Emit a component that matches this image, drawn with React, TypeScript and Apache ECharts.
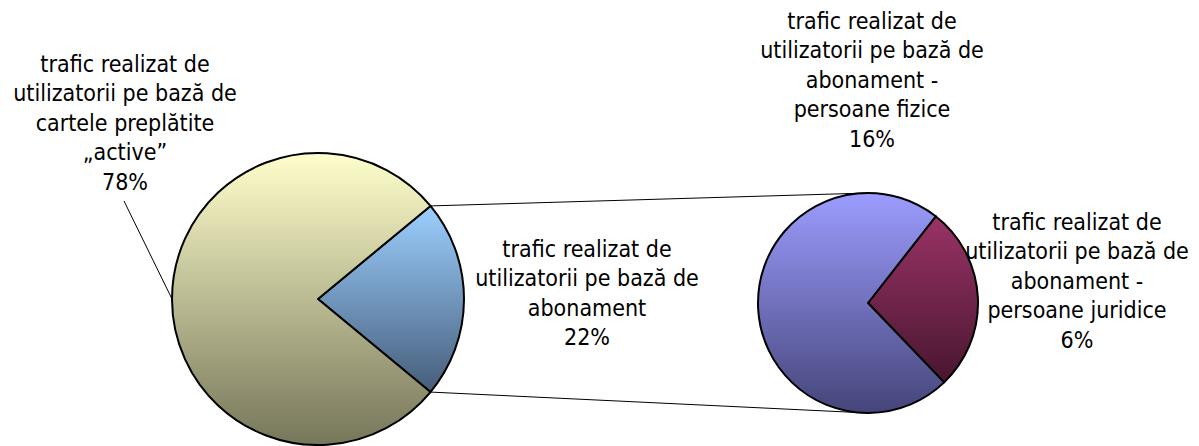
import React, { useEffect, useRef } from "react";
import * as echarts from "echarts";

const mainNames = [
  "trafic realizat de\nutilizatorii pe bază de\nabonament",
  "trafic realizat de\nutilizatorii pe bază de\ncartele preplătite\n„active”",
];
const mainValues = [22, 78];
const subNames = [
  "trafic realizat de\nutilizatorii pe bază de\nabonament -\npersoane juridice",
  "trafic realizat de\nutilizatorii pe bază de\nabonament -\npersoane fizice",
];
const subValues = [6, 16];

const mainColors = [
  ["#9ccfff", "#465d7a"],
  ["#ffffcc", "#76765a"],
];
const subColors = [
  ["#993366", "#48162e"],
  ["#9c9cff", "#45457a"],
];

// layout
const W = 1199;
const H = 446;
const MAIN_C = [318, 299];
const MAIN_R = 146;
const SUB_C = [868, 303];
const SUB_R = 110;
const mainLabelPos = [
  [587, 234],
  [125, 49],
];
const subLabelPos = [
  [1077, 207],
  [872, 6],
];
const FONT = "'DejaVu Sans Condensed', 'DejaVu Sans', sans-serif";

const grad = (c: string[]) =>
  new echarts.graphic.LinearGradient(0, 0, 0, 1, [
    { offset: 0, color: c[0] },
    { offset: 1, color: c[1] },
  ]);

export default function App() {
  const ref = useRef<HTMLDivElement>(null);
  useEffect(() => {
    document.body.style.margin = "0";
    if (!ref.current) return;
    const chart = echarts.init(ref.current, null, { renderer: "svg" });
    const mainTotal = mainValues.reduce((a, b) => a + b, 0);
    const subTotal = subValues.reduce((a, b) => a + b, 0);
    const half = ((mainValues[0] / mainTotal) * 360) / 2;
    const mainStart = half;
    const subStart = 52;
    const rad = (half * Math.PI) / 180;
    const p1 = [MAIN_C[0] + MAIN_R * Math.cos(rad), MAIN_C[1] - MAIN_R * Math.sin(rad)];
    const p2 = [MAIN_C[0] + MAIN_R * Math.cos(rad), MAIN_C[1] + MAIN_R * Math.sin(rad)];
    const labelStyle = {
      show: true,
      color: "#000",
      fontFamily: FONT,
      fontSize: 23,
      lineHeight: 29.5,
      align: "center",
      overflow: "none",
    };
    chart.setOption({
      animation: false,
      backgroundColor: "#fff",
      series: [
        {
          type: "pie",
          center: MAIN_C,
          radius: MAIN_R,
          startAngle: mainStart,
          clockwise: true,
          silent: true,
          label: {
            ...labelStyle,
            position: "inside",
            formatter: (p: any) => `${p.name}\n${Math.round((p.value / mainTotal) * 100)}%`,
          },
          labelLine: { show: false },
          labelLayout: (p: any) => ({
            x: mainLabelPos[p.dataIndex][0],
            y: mainLabelPos[p.dataIndex][1],
            align: "center",
            verticalAlign: "top",
          }),
          itemStyle: { borderColor: "#000", borderWidth: 2 },
          data: mainValues.map((v, i) => ({
            name: mainNames[i],
            value: v,
            itemStyle: { color: grad(mainColors[i]) },
          })),
          z: 2,
        },
        {
          type: "pie",
          center: SUB_C,
          radius: SUB_R,
          startAngle: subStart,
          clockwise: true,
          silent: true,
          label: {
            ...labelStyle,
            position: "inside",
            formatter: (p: any) => `${p.name}\n${Math.round((p.value / subTotal) * mainValues[0])}%`,
          },
          labelLine: { show: false },
          labelLayout: (p: any) => ({
            x: subLabelPos[p.dataIndex][0],
            y: subLabelPos[p.dataIndex][1],
            align: "center",
            verticalAlign: "top",
          }),
          itemStyle: { borderColor: "#000", borderWidth: 2 },
          data: subValues.map((v, i) => ({
            name: subNames[i],
            value: v,
            itemStyle: { color: grad(subColors[i]) },
          })),
          z: 2,
        },
      ],
      graphic: [
        {
          type: "line",
          z: 1,
          shape: { x1: p1[0], y1: p1[1], x2: SUB_C[0], y2: SUB_C[1] - SUB_R },
          style: { stroke: "#000", lineWidth: 1 },
        },
        {
          type: "line",
          z: 1,
          shape: { x1: p2[0], y1: p2[1], x2: SUB_C[0], y2: SUB_C[1] + SUB_R },
          style: { stroke: "#000", lineWidth: 1 },
        },
        {
          type: "line",
          z: 1,
          shape: { x1: 124, y1: 201, x2: MAIN_C[0] - MAIN_R, y2: MAIN_C[1] },
          style: { stroke: "#000", lineWidth: 1 },
        },
      ],
    });
    return () => chart.dispose();
  }, []);
  return <div ref={ref} style={{ width: W, height: H }} />;
}
